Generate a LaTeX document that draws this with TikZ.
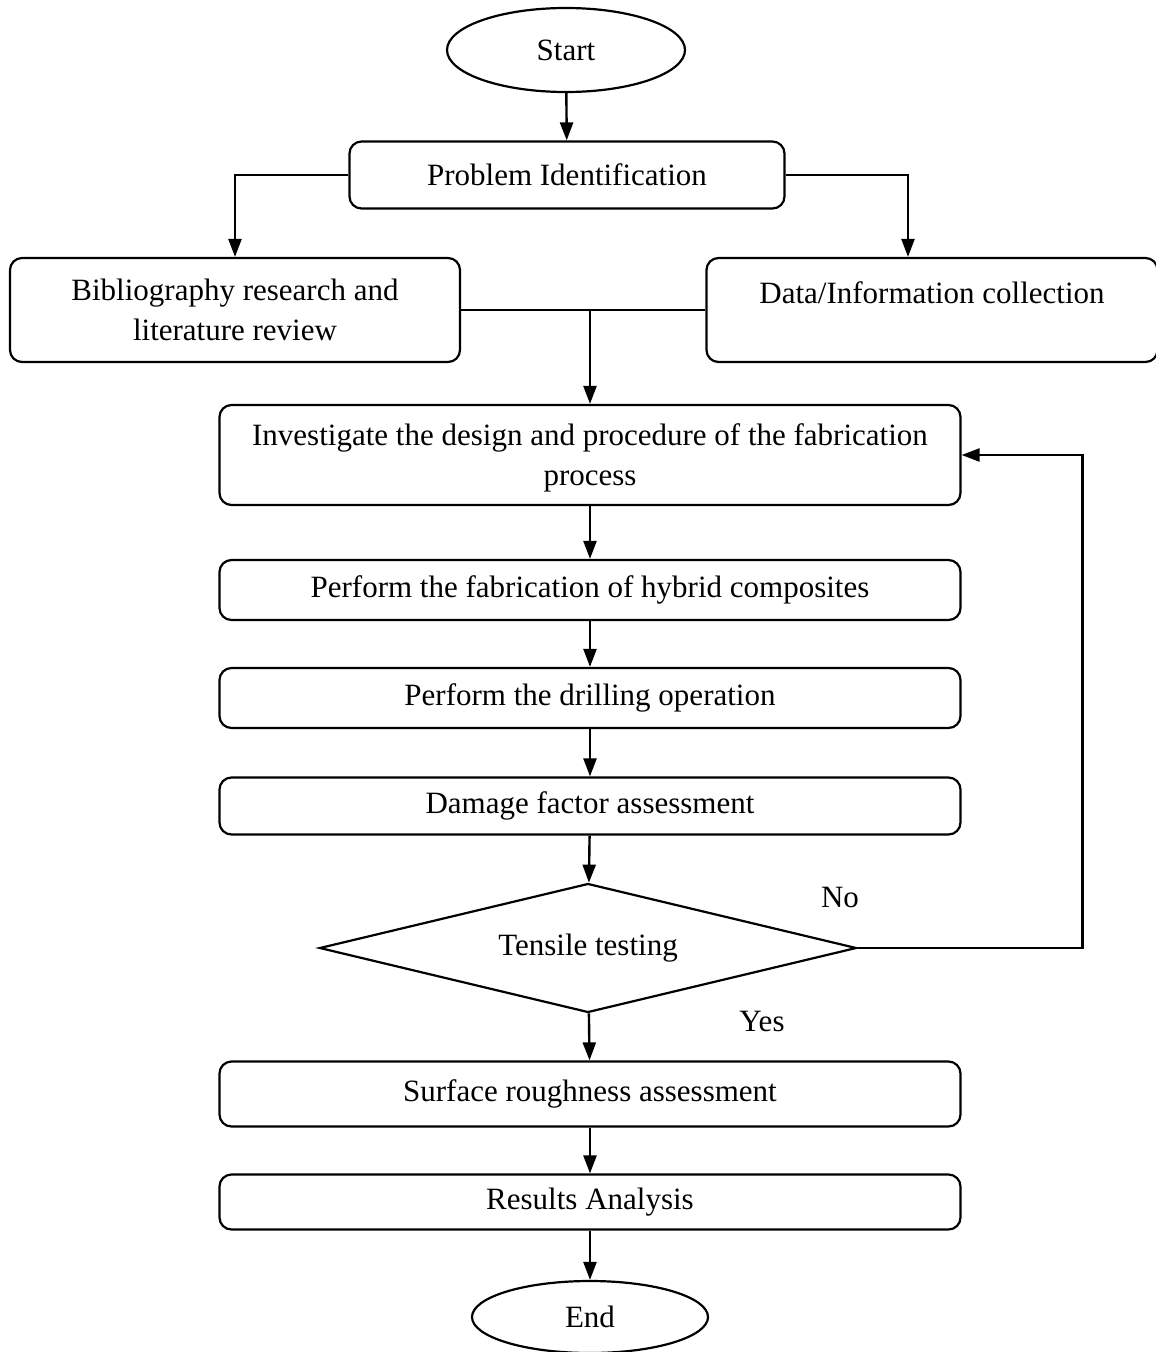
\documentclass[tikz,border=0pt]{standalone}
\usepackage{fontspec}
\setmainfont{Liberation Serif}
\usetikzlibrary{arrows.meta,shapes.geometric}
\begin{document}
\begin{tikzpicture}[x=1pt,y=-1pt,font=\fontsize{31}{40}\selectfont,
  proc/.style={draw,line width=2.2pt,rounded corners=12pt,minimum width=741pt,inner sep=0pt,align=center},
  term/.style={draw,line width=2.2pt,ellipse,inner sep=0pt},
  arr/.style={line width=2.4pt,-{Triangle[length=18pt,width=13pt]}},
  link/.style={line width=2.4pt}]
  \useasboundingbox (0,0) rectangle (1156,1352);
  \node[term,minimum width=238pt,minimum height=84pt] (start) at (566,50) {Start};
  \node[proc,minimum width=435pt,minimum height=67pt] (pi) at (567,175) {Problem Identification};
  \node[proc,minimum width=450pt,minimum height=104pt] (bib) at (235,310) {Bibliography research and\\literature review};
  \node[proc,minimum width=451pt,minimum height=104pt] (data) at (932,310) {Data/Information collection\\[-18pt]\strut};
  \node[proc,minimum height=100pt] (inv) at (590,455) {\strut Investigate the design and procedure of the fabrication\\process};
  \node[proc,minimum height=60pt] (fab) at (590,590) {Perform the fabrication of hybrid composites};
  \node[proc,minimum height=60pt] (drill) at (590,698) {Perform the drilling operation};
  \node[proc,minimum height=57pt] (dmg) at (590,806) {Damage factor assessment};
  \node[draw,diamond,line width=2.2pt,shape aspect=4.16,minimum width=537pt,minimum height=129pt,inner sep=0pt] (test) at (588,948) {Tensile testing};
  \node[proc,minimum height=65pt] (surf) at (590,1094) {Surface roughness assessment};
  \node[proc,minimum height=55pt] (res) at (590,1202) {Results Analysis};
  \node[term,minimum width=236pt,minimum height=72pt] (end) at (590,1317) {End};
  \node (no) at (840,897) {No};
  \node (yes) at (762,1021) {Yes};
  % connectors
  \draw[arr] (start) -- (pi);
  \draw[arr] (pi.west) -| (bib.north);
  \draw[arr] (pi.east) -| ([xshift=-24pt]data.north);
  \draw[link] (bib.east) -- (data.west);
  \coordinate (merge) at (inv.north |- bib.east);
  \draw[arr] (merge) -- (inv);
  \draw[arr] (inv) -- (fab);
  \draw[arr] (fab) -- (drill);
  \draw[arr] (drill) -- (dmg);
  \draw[arr] (dmg) -- (test);
  \draw[arr] (test) -- (surf);
  \draw[arr] (surf) -- (res);
  \draw[arr] (res) -- (end);
  \draw[arr] (test.east) -- ++(225,0) |- (inv.east);
\end{tikzpicture}
\end{document}
